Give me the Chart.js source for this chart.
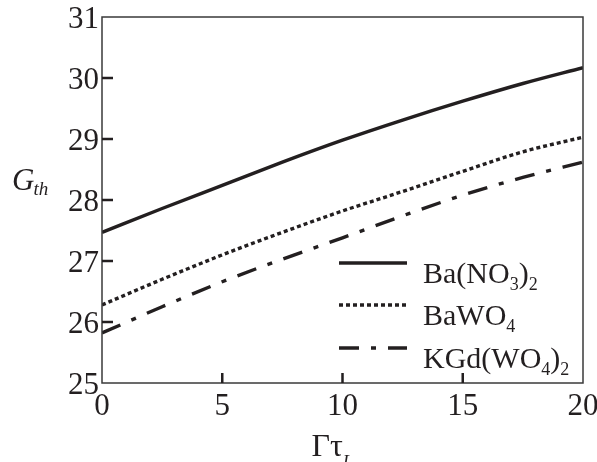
<!DOCTYPE html>
<html>
<head>
<meta charset="utf-8">
<script src="https://cdn.jsdelivr.net/npm/chart.js@4.4.1/dist/chart.umd.min.js"></script>
<style>
  html, body { margin: 0; padding: 0; background: #fff; }
  #wrap { width: 597px; height: 462px; }
</style>
</head>
<body>
<div id="wrap"><canvas id="gthChart"></canvas></div>
<script>
// threshold gain vs. normalized dephasing (Gamma * tau_L)
const gammaTau = [0, 2.5, 5, 7.5, 10, 12.5, 15, 17.5, 20];
const gthBaNO3 = [27.47, 27.86, 28.24, 28.62, 28.98, 29.31, 29.62, 29.91, 30.17];
const gthBaWO4 = [26.28, 26.70, 27.10, 27.47, 27.82, 28.14, 28.47, 28.79, 29.03];
const gthKGdWO4 = [25.82, 26.25, 26.66, 27.03, 27.38, 27.74, 28.08, 28.37, 28.62];

// "_x" marks a one-character subscript
const seriesLabels = ['Ba(NO_3)_2', 'BaWO_4', 'KGd(WO_4)_2'];
const xTicks = [0, 5, 10, 15, 20];
const yTicks = [25, 26, 27, 28, 29, 30, 31];

const INK = '#231f20';
const SERIF = "'Liberation Serif', 'Times New Roman', serif";

function points(ys) {
  return gammaTau.map((x, i) => ({ x: x, y: ys[i] }));
}

function lineSet(label, ys, dash) {
  return {
    label: label,
    data: points(ys),
    borderColor: INK,
    borderWidth: 3.4,
    borderDash: dash,
    borderCapStyle: 'butt',
    pointRadius: 0,
    cubicInterpolationMode: 'monotone',
    fill: false
  };
}

// split "Ba(NO_3)_2" into normal / subscript runs
function splitSubs(text) {
  const parts = [];
  let buf = '';
  for (let i = 0; i < text.length; i++) {
    if (text[i] === '_' && i + 1 < text.length) {
      if (buf) parts.push({ t: buf, sub: false });
      buf = '';
      parts.push({ t: text[i + 1], sub: true });
      i++;
    } else {
      buf += text[i];
    }
  }
  if (buf) parts.push({ t: buf, sub: false });
  return parts;
}

function drawRuns(ctx, parts, x, y, size, subSize, subDrop) {
  ctx.textBaseline = 'alphabetic';
  ctx.textAlign = 'left';
  parts.forEach(p => {
    ctx.font = (p.sub ? subSize : size) + 'px ' + SERIF;
    ctx.fillText(p.t, x, p.sub ? y + subDrop : y);
    x += ctx.measureText(p.t).width;
  });
}

// box around the plot, inward tick marks and the tick numbers
const framePlugin = {
  id: 'frame',
  afterDatasetsDraw(chart) {
    const { ctx, chartArea: a, scales } = chart;
    ctx.save();
    ctx.strokeStyle = '#3a3a3a';
    ctx.lineWidth = 1.5;
    ctx.strokeRect(a.left, a.top, a.right - a.left, a.bottom - a.top);

    ctx.strokeStyle = INK;
    ctx.lineWidth = 2.5;
    ctx.beginPath();
    xTicks.slice(1, -1).forEach(v => {
      const px = scales.x.getPixelForValue(v);
      ctx.moveTo(px, a.bottom);
      ctx.lineTo(px, a.bottom - 10);
    });
    yTicks.slice(1, -1).forEach(v => {
      const py = scales.y.getPixelForValue(v);
      ctx.moveTo(a.left, py);
      ctx.lineTo(a.left + 11, py);
    });
    ctx.stroke();

    ctx.fillStyle = INK;
    ctx.font = '31px ' + SERIF;
    ctx.textBaseline = 'middle';
    ctx.textAlign = 'right';
    yTicks.forEach(v => {
      ctx.fillText(String(v), a.left - 3, scales.y.getPixelForValue(v) + 3);
    });
    ctx.textAlign = 'center';
    xTicks.forEach(v => {
      ctx.fillText(String(v), scales.x.getPixelForValue(v), a.bottom + 24);
    });
    ctx.restore();
  }
};

// axis titles with subscripts
const titlesPlugin = {
  id: 'titles',
  afterDraw(chart) {
    const { ctx, chartArea: a } = chart;
    ctx.save();
    ctx.fillStyle = INK;
    ctx.textBaseline = 'alphabetic';
    ctx.textAlign = 'left';

    // G_th
    ctx.font = 'italic 31px ' + SERIF;
    ctx.fillText('G', 12, 190);
    const gw = ctx.measureText('G').width;
    ctx.font = 'italic 19px ' + SERIF;
    ctx.fillText('th', 11 + gw, 195);

    // Γτ_L
    const x0 = (a.left + a.right) / 2 - 31;
    ctx.font = '32px ' + SERIF;
    ctx.fillText('\u0393\u03c4', x0, 456);
    const tw = ctx.measureText('\u0393\u03c4').width;
    ctx.font = 'italic 18px ' + SERIF;
    ctx.fillText('L', x0 + tw, 468);
    ctx.restore();
  }
};

// legend drawn inside the plot, samples use each dataset's own stroke
const legendPlugin = {
  id: 'insideLegend',
  afterDraw(chart) {
    const { ctx } = chart;
    const rowY = [263, 305, 348];
    ctx.save();
    chart.data.datasets.forEach((ds, i) => {
      const y = rowY[i];
      ctx.strokeStyle = ds.borderColor;
      ctx.lineWidth = ds.borderWidth;
      ctx.lineCap = 'butt';
      ctx.setLineDash(ds.borderDash || []);
      ctx.beginPath();
      ctx.moveTo(339, y);
      ctx.lineTo(407, y);
      ctx.stroke();
      ctx.setLineDash([]);
      ctx.fillStyle = INK;
      drawRuns(ctx, splitSubs(ds.label), 423, y + 20, 30, 18, 7);
    });
    ctx.restore();
  }
};

new Chart(document.getElementById('gthChart'), {
  type: 'line',
  data: {
    datasets: [
      lineSet(seriesLabels[0], gthBaNO3, []),
      lineSet(seriesLabels[1], gthBaWO4, [4, 3]),
      lineSet(seriesLabels[2], gthKGdWO4, [20, 12, 5, 12])
    ]
  },
  options: {
    responsive: true,
    maintainAspectRatio: false,
    animation: false,
    layout: { padding: { left: 68, right: 14, top: 17, bottom: 38 } },
    plugins: {
      legend: { display: false },
      tooltip: { enabled: false }
    },
    scales: {
      x: {
        type: 'linear',
        min: 0,
        max: 20,
        afterBuildTicks: s => { s.ticks = xTicks.map(v => ({ value: v })); },
        afterFit: s => { s.height = 41; },
        grid: { display: false },
        border: { display: false },
        ticks: { display: false }
      },
      y: {
        type: 'linear',
        min: 25,
        max: 31,
        afterBuildTicks: s => { s.ticks = yTicks.map(v => ({ value: v })); },
        afterFit: s => { s.width = 34; },
        grid: { display: false },
        border: { display: false },
        ticks: { display: false }
      }
    }
  },
  plugins: [framePlugin, titlesPlugin, legendPlugin]
});
</script>
</body>
</html>
